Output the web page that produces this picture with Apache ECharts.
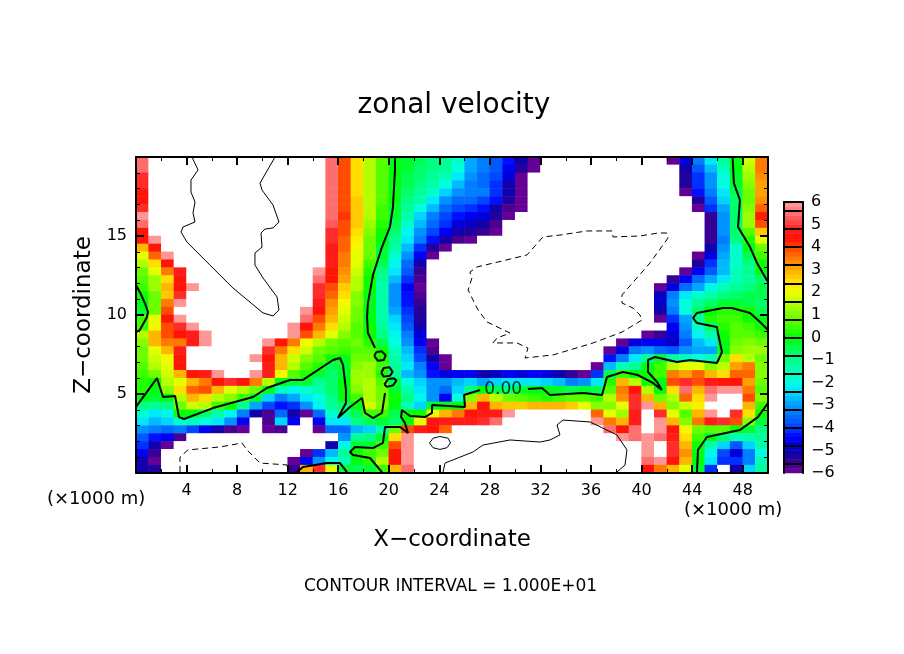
<!DOCTYPE html>
<html>
<head>
<meta charset="utf-8">
<script src="https://cdn.jsdelivr.net/npm/echarts@6/dist/echarts.min.js"></script>
<style>
  html, body { margin: 0; background: #fff; }
  #chart { width: 904px; height: 654px; }
</style>
</head>
<body>
<div id="chart"></div>
<script>
// cell centres: x every 1 km, z every 0.5 km
const xCells = Array.from({ length: 50 }, (_, i) => i + 0.5);
const zCells = Array.from({ length: 40 }, (_, i) => i * 0.5 + 0.25);
const xTickLabels = [4, 8, 12, 16, 20, 24, 28, 32, 36, 40, 44, 48];
const zTickLabels = [5, 10, 15];
const barLevels = Array.from({ length: 60 }, (_, i) => i);

// velocity, top row first. 9 and -9 lie off the colour scale (white)
const zonalRows = [
  [5.5,9,9,9,9,9,9,9,9,9,9,9,9,9,9, 5.5,4,2.5,1.5,.7,0,-.3,-.5,-.8,-1,-1.7,-2.8,-3.2,-3.6,-4.3,-5,-5.8, -9,-9,-9,-9,-9,-9,-9,-9,-9,-9, -6,-4.7,-3.3,-2.2,-1,0,1.7,3.5],
  [5.5,9,9,9,9,9,9,9,9,9,9,9,9,9,9, 5.5,4,2.5,1.5,.7,0,-.3,-.6,-.9,-1.1,-1.9,-2.8,-3.3,-3.7,-4.4,-5.2,-6, -9,-9,-9,-9,-9,-9,-9,-9,-9,-9, -9,-5,-3.6,-2.6,-1.4,-.1,1.5,3.5],
  [5,9,9,9,9,9,9,9,9,9,9,9,9,9,9, 5.5,4,2.5,1.5,.7,0,-.4,-.7,-1,-1.4,-2.2,-3,-3.5,-3.9,-4.7,-5.8, -9,-9,-9,-9,-9,-9,-9,-9,-9,-9,-9, -9,-5.3,-4,-3,-1.8,-.2,1.3,3.3],
  [5,9,9,9,9,9,9,9,9,9,9,9,9,9,9, 5.5,4,2.5,1.5,.7,0,-.5,-.8,-1.2,-1.8,-2.7,-3.2,-3.5,-4,-5,-6, -9,-9,-9,-9,-9,-9,-9,-9,-9,-9,-9, -9,-5.3,-4,-3,-1.9,-.3,1.1,3.2],
  [4.5,9,9,9,9,9,9,9,9,9,9,9,9,9,9, 5.5,4,2.6,1.5,.7,-.1,-.7,-1,-1.6,-2.4,-3,-3.2,-3.3,-4,-5,-6, -9,-9,-9,-9,-9,-9,-9,-9,-9,-9,-9, -9,-6,-4.3,-3.2,-2.2,-.4,1,3.2],
  [4.5,9,9,9,9,9,9,9,9,9,9,9,9,9,9, 5.5,4,2.7,1.6,.7,-.1,-.8,-1.3,-2.2,-3,-3.5,-3.5,-3.8,-4.2,-5.2,-6, -9,-9,-9,-9,-9,-9,-9,-9,-9,-9,-9, -9,-9,-5.2,-3.6,-2.5,-.6,1,3.4],
  [5,9,9,9,9,9,9,9,9,9,9,9,9,9,9, 5.5,4,2.8,1.6,.6,-.2,-1,-1.8,-2.6,-3.4,-3.9,-4,-4.3,-5,-5.7,-6, -9,-9,-9,-9,-9,-9,-9,-9,-9,-9,-9, -9,-9,-6,-4,-2.8,-.7,1.2,3.8],
  [6,9,9,9,9,9,9,9,9,9,9,9,9,9,9, 5.5,4.2,2.8,1.5,.5,-.3,-1.3,-2.5,-3.2,-3.8,-4.2,-4.4,-4.6,-5.2,-5.8, -9,-9,-9,-9,-9,-9,-9,-9,-9,-9,-9,-9, -9,-9,-9,-5.5,-3,-.6,1.4,4.3],
  [5.5,9,9,9,9,9,9,9,9,9,9,9,9,9,9, 5.3,4,2.8,1.4,.3,-.5,-1.6,-2.6,-3.5,-4.1,-4.6,-4.8,-5,-5.6, -9,-9,-9,-9,-9,-9,-9,-9,-9,-9,-9,-9,-9, -9,-9,-9,-5.5,-3,-.6,1.3,4],
  [4.5,9,9,9,9,9,9,9,9,9,9,9,9,9,9, 5,3.9,2.5,1.2,.2,-.7,-2,-3,-3.8,-4.5,-5,-5.2,-5.5,-6, -9,-9,-9,-9,-9,-9,-9,-9,-9,-9,-9,-9,-9, -9,-9,-9,-5.5,-3,-.7,.8,2.7],
  [4.5,6,9,9,9,9,9,9,9,9,9,9,9,9,9, 5,3.8,2.3,1,0,-1,-2.2,-3.3,-4.3,-5,-5.6,-6, -9,-9,-9,-9,-9,-9,-9,-9,-9,-9,-9,-9,-9,-9,-9,-9,-9,-9, -5.5,-3.3,-.8,.4,2],
  [3,4.5,9,9,9,9,9,9,9,9,9,9,9,9,9, 4.8,3.7,2.2,1,-.2,-1.3,-2.6,-4,-5.2,-6, -9,-9,-9,-9,-9,-9,-9,-9,-9,-9,-9,-9,-9,-9,-9,-9,-9, -9,-9,-9,-5,-3,-1.7,-.1,.9],
  [2,3.8,6,9,9,9,9,9,9,9,9,9,9,9,9, 4.8,3.6,2,.9,-.3,-1.7,-3,-4.5,-6, -9,-9,-9,-9,-9,-9,-9,-9,-9,-9,-9,-9,-9,-9,-9,-9,-9,-9, -9,-9,-6,-4.6,-2.9,-1.7,-.4,.6],
  [1.5,2.5,4.5,9,9,9,9,9,9,9,9,9,9,9,9, 4.7,3.5,1.9,.6,-.5,-2,-3.5,-5, -9,-9,-9,-9,-9,-9,-9,-9,-9,-9,-9,-9,-9,-9,-9,-9,-9,-9,-9, -9,-9,-5.3,-4,-2.7,-1.7,-.8,.2],
  [1,2,3.5,4.7,9,9,9,9,9,9,9,9,9,9,6, 4.6,3.3,1.8,.3,-.8,-2.3,-3.7,-5.5, -9,-9,-9,-9,-9,-9,-9,-9,-9,-9,-9,-9,-9,-9,-9,-9,-9,-9,-9, -9,-5.8,-4.5,-3.6,-2.6,-1.5,-1,0],
  [.7,1.3,2.5,4.5,9,9,9,9,9,9,9,9,9,9,5.5, 4.5,3.2,1.6,.2,-1,-2.6,-4,-5.7, -9,-9,-9,-9,-9,-9,-9,-9,-9,-9,-9,-9,-9,-9,-9,-9,-9,-9,-9, -5.5,-4.5,-3.5,-2.8,-2.3,-1.5,-1,-.6],
  [.5,1.3,3,4.5,6,9,9,9,9,9,9,9,9,9,5, 4,2.8,1.5,.2,-1.3,-3,-4.5,-6, -9,-9,-9,-9,-9,-9,-9,-9,-9,-9,-9,-9,-9,-9,-9,-9,-9,-9, -5.8, -4.6,-3.5,-2.8,-2,-1.4,-1,-.8,-.5],
  [.2,1,2.8,5,9,9,9,9,9,9,9,9,9,9,5, 3.8,2.5,1.2,0,-1.3,-3,-4.3,-5.7, -9,-9,-9,-9,-9,-9,-9,-9,-9,-9,-9,-9,-9,-9,-9,-9,-9,-9, -4.8, -3.2,-2.2,-1.6,-1.2,-.8,-.6,-.5,-.5],
  [0,1,3.5,6,9,9,9,9,9,9,9,9,9,9,4.7, 3.3,2.2,1.1,-.1,-1.3,-3,-4.2,-5.5, -9,-9,-9,-9,-9,-9,-9,-9,-9,-9,-9,-9,-9,-9,-9,-9,-9,-9, -4.8, -3,-1.8,-1,-.7,-.3,-.2,-.4,-.6],
  [-.2,1,4,9,9,9,9,9,9,9,9,9,9,6,4.5, 3.2,2,1,-.1,-1.3,-2.8,-4,-5.3, -9,-9,-9,-9,-9,-9,-9,-9,-9,-9,-9,-9,-9,-9,-9,-9,-9,-9, -5, -3.3,-1.8,-.7,-.1,.3,.4,.1,-.4],
  [.5,2,4.5,6,9,9,9,9,9,9,9,9,9,5.5,4, 3,1.8,1,-.1,-1.2,-2.5,-3.8,-5.2, -9,-9,-9,-9,-9,-9,-9,-9,-9,-9,-9,-9,-9,-9,-9,-9,-9,-9, -6, -4,-2.8,-1,.3,.5,.6,.2,-.1],
  [.5,2.2,4,5,6,9,9,9,9,9,9,9,6,4.5,3.5, 2.5,1.5,.8,.1,-1,-2.3,-3.6,-5, -9,-9,-9,-9,-9,-9,-9,-9,-9,-9,-9,-9,-9,-9,-9,-9,-9,-9,-9, -4.5,-3,-1.6,-.7,.4,.7,.5,.1],
  [1.5,3,4,4.5,4.8,6,9,9,9,9,9,9,6,4,3, 2,1.2,.7,.1,-.8,-2,-3.3,-4.7, -9,-9,-9,-9,-9,-9,-9,-9,-9,-9,-9,-9,-9,-9,-9,-9,-9, -5.8,-5.5, -4.7,-3.3,-2,-1.3,.1,.8,.8,.6],
  [1.2,3,3.5,3.5,4.8,6,9,9,9,9,6,4.5,3.5,2.2,1.5, 1,.8,.9,.4,-.5,-1.8,-3,-4.5, -6, -9,-9,-9,-9,-9,-9,-9,-9,-9,-9,-9,-9,-9,-9, -5.8,-4.6,-4.5,-4.5, -4.8,-3.7,-2.6,-2.2,-.1,1,1.2,1],
  [1,2,3,4.7,9,9,9,9,9,9,5,3.5,2.5,1.7,1, .7,.6,.8,.8,.2,-1.5,-2.7,-4, -5.7, -9,-9,-9,-9,-9,-9,-9,-9,-9,-9,-9,-9,-9, -6,-4.7,-3.2,-3,-3.4, -3.7,-3,-2.8,-2.8,-.1,1.2,1.4,1.3],
  [1,1.7,2.2,4.5,9,9,9,9,9,6,4.5,3,1.8,1.2,.8, .1,0,1,1,.3,-1.3,-2.5,-3.8, -5,-6, -9,-9,-9,-9,-9,-9,-9,-9,-9,-9,-9,-9, -4.3,-3.2,-2.2,-1,-.3, -1.3,-1.5,-1.8,-1.4,1,2.5,1.5,1],
  [.7,1.5,2,4.5,9,9,9,9,9,9,4.7,3,1.6,.8,.4, -.4,-.3,1.2,1.3,.5,-1,-2.2,-3.3, -4.5,-6, -9,-9,-9,-9,-9,-9,-9,-9,-9,-9,-9, -6,-2.6,-1.5,-1,-.1,.5, 1.5,2,2,1.2,1.5,3.2,3.5,1.2],
  [.5,1,1.7,3,4.5,4.7,6,9,9,6,4.7,2.2,.8,.4,-.3, -.6,-.2,1.3,1.3,.3,-1,-2.7,-3, -4.2,-4.7,-4.5,-4.5,-5,-4.8,-4.5,-4.6,-4.5,-4.7,-5,-5.5,-5.8, -4,-.5,.5,0,.2,.5, 3.5,3.2,3.7,3,2.5,3.7,3.7,1.2],
  [.3,.2,1.5,2,3,3.5,4.5,5,4.5,3.5,1.5,0,-.3,-.3,-1, -.7,-.1,1.3,1.5,.7,-.5,-1.8,-2.5, -3,-3,-2.7,-2.5,-2.8,-2.5,-2.3,-2.3,-2.3,-2.5,-2.7,-3.3,-3, -2.2,.3,3,1.5,.2,0, 4,5,4,4.7,4.5,4.5,3.2,1],
  [.4,0,1.2,2.5,3.7,4,3,2,1.6,1,-.1,-1.4,-2,-1.7,-1.3, -.6,-.1,1.2,1.6,1,-.2,-1.3,-2.3, -3,-3.5,-2.5,-.8,0,-.5,-.8,-.3,-.1,0,-.2,-.4,-.3, -.5,.8,3.5,4.5,1.5,0, 2.5,5.5,3,5.5,6,6,3.5,.8],
  [0,-.3,0,1.5,3,2.5,1.5,1.1,.5,-.2,-2.5,-3.3,-2.8,-2.3,-1.8, -.8,-.1,.5,1.5,1,.1,-.9,-2, -3,-4.5,-1.8,1.2,3,1.5,1,.8,.5,.4,.5,.8,.7, .5,1.5,3.3,5,3,1, 1.5,3.7,2.5,6,9,9,4,1.2],
  [-.8,-1,-.8,1,1.8,1.5,.6,.2,-1,-2.8,-3.8,-4.3,-4,-3,-2, -1,-.7,0,1.7,1.1,-.1,-1.5,-2.4, -.2,0,0,3,4.5,3,2.8,2.8,3,3,3,2.7,2, 1.2,1.1,2,5,6,3, 1.2,1.8,2.3,9,9,9,3,.5],
  [-1.7,-2.2,-2,.2,0,-.6,-1.2,-2,-3.2,-5,-5.7,-3.5,-5,-5.8,-3.5, -1.6,-1,-.4,.5,.5,-.5,.1,.2, 2,3,3.5,4.5,4.7,4.7,6,9,9,9,9,9,9, 3.7,2,1.3,4.7,9,5, 2,.8,3,6,9,5,2.5,.2],
  [-2.2,-2.6,-2.5,-1.7,-1.5,-1.8,-2.2,-3,-4.5,-9,-5.7,-2.5,-4.5,-9,-4.5, -2.3,-2.3,-.8,-.5,-.3,-.7,0,2, 4.5,4.7,4.8,4.7,5,5.5,9,9,9,9,9,9,9, 6,3.5,3,4.8,9,6, 3,1.2,3.5,4.7,5,4,1.2,-.2],
  [-3,-3.3,-3.5,-3.3,-3.8,-4.5,-5,-5.7,-6,-9,-6,-5.7,-9,-9,-6, -3.5,-3.5,-2.7,-2.5,-1.3,1,4,4.8, 4.5,3.7,9,9,9,9,9,9,9,9,9,9,9, 9,5.5,4.5,5.5,9,6, 4.5,2.2,1,.7,.7,.2,-.3,-.8],
  [-3.7,-4.2,-4.5,-5.7,-9,-9,-9,-9,-9,-9,-9,-9,-9,-9,-9, -9,-3,-1,-.8,-.3,2.5,6,9, 9,9,9,9,9,9,9,9,9,9,9,9,9, 9,9,6,5.5,6,5.5, 4.8,2.5,.5,-.1,-.7,-1.5,-1.2,-1],
  [-4,-5,-6,-9,-9,-9,-9,-9,-9,-9,-9,-9,-9,-9,-9, -5,-2,-.2,-.2,.5,4,6,9, 9,9,9,9,9,9,9,9,9,9,9,9,9, 9,9,9,9,6,9, 5,3,.2,-1.3,-2.5,-3.6,-2.5,-1.2],
  [-4.5,-5.5,-9,-9,-9,-9,-9,-9,-9,-9,-9,-9,-9,-5.8,-4, -2.7,-1,.1,.5,1,4.5,6,9, 9,9,9,9,9,9,9,9,9,9,9,9,9, 9,9,9,9,6,9, 5,3.3,0,-2,-3.8,-4.7,-3.3,-1.8],
  [-5,-6,-9,-9,-9,-9,-9,-9,-9,-9,-9,-9,-5.8,-4.5,-3, -2,-1.5,-.1,.3,1.5,4.5,6,9, 9,9,9,9,9,9,9,9,9,9,9,9,9, 9,9,9,9,5.5,6, 4.5,3,-.1,-2.3,-4,-4,-3.3,-1.5],
  [-5,-5.3,-9,-9,-9,-9,-9,-9,-9,-9,-9,-9,-5.5,3,5, 2,-.3,-.4,-.2,.5,3,5.5,9, 9,9,9,9,9,9,9,9,9,9,9,9,9, 9,9,9,9,4.5,3.5, 3,2,-.3,-4,9,-5,-2.5,-1],
];

// zero contours, [x, z]
const zeroLobe = [[0,11.9],[.3,11.46],[.7,10.76],[.95,10.19],[.87,9.87],[.3,9.05],[0,8.92]];
const zeroLong = [[0,4.18],[1.66,6.01],[2.14,4.81],[3.09,4.87],[3.4,3.54],[3.8,3.42],[6.09,4.11],[9.26,4.81],[10.36,5.38],[12.18,5.89],[13.21,5.89],[15.59,7.15],[16.14,7.28],[16.38,6.84],[16.61,5.25],[16.61,4.43],[15.98,3.48],[16.93,4.18],[17.88,4.75],[18.12,3.8],[18.75,3.48],[19.46,3.8],[19.7,5.06]];
const zeroTop = [[20.49,20],[20.49,19.18],[20.33,16.84],[20.09,15.57],[19.46,14.3],[18.75,12.53],[18.35,10.76],[18.28,9.87],[18.35,8.86],[18.91,7.91]];
const zeroOval1 = [[18.85,7.4],[19,7.65],[19.45,7.7],[19.75,7.45],[19.6,7.15],[19.15,7.1],[18.85,7.4]];
const zeroOval2 = [[19.4,6.35],[19.6,6.65],[20.05,6.7],[20.3,6.4],[20.1,6.15],[19.6,6.1],[19.4,6.35]];
const zeroOval3 = [[19.65,5.6],[19.95,5.95],[20.4,6],[20.6,5.85],[20.35,5.55],[19.85,5.45],[19.65,5.6]];
const zeroBox = [[12.74,.06],[13.21,.38],[15.11,.63],[16.14,.63],[16.69,.06]];
const zeroMid = [[19.46,.06],[18.51,.95],[17.17,1.14],[16.93,1.33],[17.33,1.65],[18.75,1.58],[19.54,1.9],[19.7,2.91],[20.89,2.91],[21.52,2.53],[21.28,3.16],[20.97,3.54],[21.04,3.99],[21.68,3.61],[22.86,3.54],[23.42,3.8],[23.42,4.3],[26.03,4.18],[25.95,4.94],[27.22,5.25]];
const zeroRight = [[31.01,5.32],[32.12,5.38],[32.75,4.94],[35.36,5.06],[36.87,4.94],[37.26,6.08],[38.53,6.39],[39.71,6.2],[40.9,5.7],[41.61,5.25],[41.22,5.76],[40.51,6.39],[40.51,7.15],[41.06,7.34],[42.8,7.03],[43.83,7.15],[45.96,6.96],[46.36,7.66],[46.04,8.86],[45.96,9.24],[44.38,9.49],[44.07,9.81],[44.38,10.13],[46.44,10.44],[47.15,10.44],[48.58,10.13],[49.37,9.56],[50,9.05]];
const zeroTopRight = [[47.2,20],[47.3,18.35],[47.78,17.28],[47.63,15.57],[48.58,14.3],[49.13,13.29],[49.9,12.22],[50,12.15]];
const zeroLowRight = [[50,4.43],[49.2,3.54],[47.78,2.72],[45.17,2.28],[44.46,1.46],[44.38,0]];
const zeroContours = [zeroLobe, zeroLong, zeroTop, zeroOval1, zeroOval2, zeroOval3, zeroBox, zeroMid, zeroRight, zeroTopRight, zeroLowRight];

// +10 contours
const plusLoop = [[4.43,20],[4.91,19.18],[4.35,18.54],[4.35,17.78],[4.67,17.15],[4.51,16.46],[4.67,15.89],[3.72,15.57],[3.56,15.25],[4.03,14.62],[5.85,13.16],[7.67,11.71],[10.05,10.13],[10.84,9.94],[11.31,10.32],[11.16,11.14],[10.05,12.34],[9.41,13.16],[9.41,13.92],[9.97,14.3],[9.89,15.19],[10.21,15.44],[10.84,15.51],[11.31,15.89],[10.84,16.96],[9.97,17.91],[9.81,18.35],[11,20]];
const plusLow = [[24.29,.06],[24.45,.63],[26.66,1.33],[27.45,1.77],[29.59,2.09],[31.96,1.96],[32.75,2.09],[33.54,2.41],[33.31,3.04],[33.78,3.35],[35.92,3.23],[38.05,2.41],[38.84,1.46],[38.69,.51],[38.05,.06]];
const plusOval = [[23.22,1.9],[23.5,2.2],[24.05,2.31],[24.7,2.2],[24.88,1.9],[24.6,1.6],[24.05,1.49],[23.5,1.6],[23.22,1.9]];
const plusContours = [plusLoop, plusLow, plusOval];

// -10 contours
const minusCentre = [[42,15.19],[41.3,15.19],[39.87,15],[37.74,14.94],[37.66,15.32],[35.68,15.32],[33.54,15.06],[32.2,14.94],[30.93,13.8],[29.59,13.54],[26.98,13.04],[26.42,12.72],[26.58,12.34],[26.27,11.58],[27.06,10.32],[27.77,9.56],[29.59,8.86],[28.56,8.54],[28.24,8.23],[30.14,8.23],[31.01,7.91],[30.78,7.28],[32.99,7.47],[36.16,8.23],[38.45,8.92],[40.03,9.68],[39.87,10],[39.32,10.44],[38.45,10.76],[38.45,11.27],[40.66,13.29],[42.09,14.87],[42,15.19]];
const minusLow = [[3.48,.06],[3.48,1.01],[4.11,1.46],[6.65,1.65],[8.39,1.9],[8.78,1.46],[9.81,.63],[11.95,.51],[12.03,.06]];
const minusContours = [minusCentre, minusLow];

const zeroLabelPoint = [[29.05, 5.28]];

// colour scale from -6 to 6, one stop every 0.4
const scaleColors = ['#700098','#400090','#1800a0','#0000d0','#0000ff','#0040ff','#0060ff','#0088ff','#00b0ff','#00e0ff','#00ffe8','#00ffc0','#00ffa0','#00ff78','#00ff40','#00ff00','#30ff00','#60ff00','#90ff00','#c0ff00','#f0ff00','#ffe800','#ffc000','#ff9800','#ff7000','#ff4000','#ff1000','#ff2020','#ff5050','#ff7878','#ffa0a0'];

const textFont = 'DejaVu Sans';
const chart = echarts.init(document.getElementById('chart'));

const heatData = [];
zonalRows.forEach((row, r) => {
  row.forEach((v, c) => heatData.push([c, zonalRows.length - 1 - r, v]));
});

const barData = barLevels.map((k) => [0, k, -5.9 + k * 0.2]);

// one piece per 0.2 step, anything past +-6 stays white
const colorPieces = barLevels.map((k) => ({
  min: -6 + k * 0.2,
  max: -5.8 + k * 0.2,
  color: echarts.color.lerp((k + 0.5) / barLevels.length, scaleColors),
}));

function contourLines(list, width, type) {
  return list.map((points) => ({
    type: 'line',
    xAxisIndex: 1,
    yAxisIndex: 1,
    data: points,
    symbol: 'none',
    silent: true,
    z: 6,
    lineStyle: { color: '#000', width: width, type: type },
  }));
}

const plotAxis = {
  type: 'value',
  gridIndex: 1,
  z: 5,
  splitLine: { show: false },
  axisLine: { show: true, onZero: false, lineStyle: { color: '#000', width: 2 } },
  axisTick: { show: true, inside: true, length: 8, lineStyle: { color: '#000', width: 2 } },
  minorTick: { show: true, length: 4, lineStyle: { color: '#000', width: 1 } },
};

chart.setOption({
  animation: false,
  backgroundColor: '#fff',
  title: {
    text: 'zonal velocity',
    left: 449,
    top: 87,
    textAlign: 'center',
    textStyle: { fontFamily: textFont, fontSize: 28, fontWeight: 'normal', color: '#000' },
  },
  grid: [
    { left: 136, top: 157, width: 632, height: 316 },
    { left: 136, top: 157, width: 632, height: 316 },
    { left: 784, top: 202, width: 19, height: 271 },
  ],
  xAxis: [
    { type: 'category', gridIndex: 0, data: xCells, show: false },
    {
      ...plotAxis,
      position: 'bottom',
      min: 0,
      max: 50,
      interval: 4,
      minorTick: { ...plotAxis.minorTick, splitNumber: 2 },
      name: 'X−coordinate',
      nameLocation: 'middle',
      nameGap: 56,
      nameTextStyle: { fontFamily: textFont, fontSize: 23, color: '#000' },
      axisLabel: {
        margin: 10,
        fontFamily: textFont,
        fontSize: 16,
        color: '#000',
        formatter: (v) => (xTickLabels.includes(v) ? String(v) : ''),
      },
    },
    {
      ...plotAxis,
      position: 'top',
      min: 0,
      max: 50,
      interval: 4,
      minorTick: { ...plotAxis.minorTick, splitNumber: 2 },
      axisLabel: { show: false },
    },
    {
      type: 'category',
      gridIndex: 2,
      position: 'bottom',
      data: [''],
      z: 5,
      axisLine: { show: true, lineStyle: { color: '#000', width: 2 } },
      axisTick: { show: false },
      axisLabel: { show: false },
    },
    {
      type: 'category',
      gridIndex: 2,
      position: 'top',
      data: [''],
      z: 5,
      axisLine: { show: true, lineStyle: { color: '#000', width: 2 } },
      axisTick: { show: false },
      axisLabel: { show: false },
    },
  ],
  yAxis: [
    { type: 'category', gridIndex: 0, data: zCells, show: false },
    {
      ...plotAxis,
      position: 'left',
      min: 0,
      max: 20,
      interval: 5,
      minorTick: { ...plotAxis.minorTick, splitNumber: 5 },
      name: 'Z−coordinate',
      nameLocation: 'middle',
      nameGap: 39,
      nameTextStyle: { fontFamily: textFont, fontSize: 23, color: '#000' },
      axisLabel: {
        margin: 9,
        fontFamily: textFont,
        fontSize: 16,
        color: '#000',
        formatter: (v) => (zTickLabels.includes(v) ? String(v) : ''),
      },
    },
    {
      ...plotAxis,
      position: 'right',
      min: 0,
      max: 20,
      interval: 5,
      minorTick: { ...plotAxis.minorTick, splitNumber: 5 },
      axisLabel: { show: false },
    },
    {
      type: 'category',
      gridIndex: 2,
      position: 'left',
      data: barLevels,
      z: 5,
      axisLine: { show: true, lineStyle: { color: '#000', width: 2 } },
      axisTick: { show: false },
      axisLabel: { show: false },
      splitLine: {
        show: true,
        interval: (index) => index % 4 === 2,
        lineStyle: { color: '#000', width: 2 },
      },
    },
    {
      type: 'value',
      gridIndex: 2,
      position: 'right',
      min: -6,
      max: 6,
      interval: 1,
      z: 5,
      splitLine: { show: false },
      axisLine: { show: true, onZero: false, lineStyle: { color: '#000', width: 2 } },
      axisTick: { show: false },
      axisLabel: {
        margin: 8,
        fontFamily: textFont,
        fontSize: 16,
        color: '#000',
        formatter: (v) => String(v).replace('-', '−'),
      },
    },
  ],
  visualMap: {
    type: 'piecewise',
    show: false,
    seriesIndex: [0, 1],
    pieces: colorPieces,
    outOfRange: { color: '#fff' },
  },
  series: [
    {
      type: 'heatmap',
      xAxisIndex: 0,
      yAxisIndex: 0,
      data: heatData,
      silent: true,
      progressive: 0,
      z: 1,
    },
    {
      type: 'heatmap',
      xAxisIndex: 3,
      yAxisIndex: 3,
      data: barData,
      silent: true,
      z: 1,
    },
    ...contourLines(zeroContours, 2, 'solid'),
    ...contourLines(plusContours, 1, 'solid'),
    ...contourLines(minusContours, 1, [6, 4]),
    {
      type: 'scatter',
      xAxisIndex: 1,
      yAxisIndex: 1,
      data: zeroLabelPoint,
      symbolSize: 0,
      silent: true,
      z: 7,
      label: {
        show: true,
        position: 'inside',
        formatter: '0.00',
        fontFamily: textFont,
        fontSize: 17,
        color: '#000',
      },
    },
  ],
  graphic: [
    {
      type: 'text',
      left: 47,
      top: 490,
      style: { text: '(×1000 m)', fontFamily: textFont, fontSize: 18, fill: '#000' },
    },
    {
      type: 'text',
      left: 684,
      top: 501,
      style: { text: '(×1000 m)', fontFamily: textFont, fontSize: 18, fill: '#000' },
    },
    {
      type: 'text',
      left: 304,
      top: 578,
      style: { text: 'CONTOUR INTERVAL = 1.000E+01', fontFamily: textFont, fontSize: 17, fill: '#000' },
    },
  ],
});
</script>
</body>
</html>
